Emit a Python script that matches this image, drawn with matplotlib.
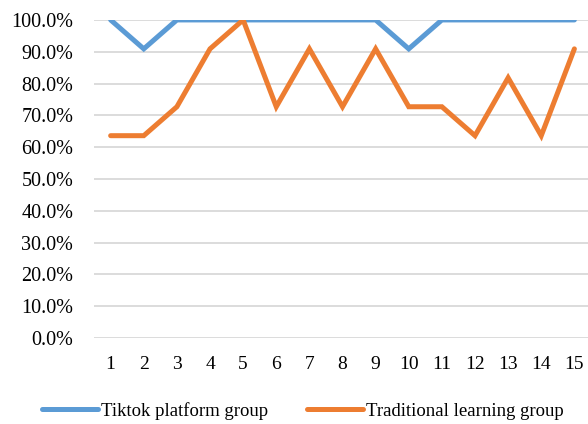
import matplotlib
matplotlib.use('Agg')
import matplotlib.pyplot as plt
from matplotlib.ticker import PercentFormatter

plt.rcParams['font.family'] = ['Liberation Serif', 'DejaVu Serif']

groups = list(range(1, 16))
tiktok = [100, 90.9, 100, 100, 100, 100, 100, 100, 100, 90.9, 100, 100, 100, 100, 100]
traditional = [63.6, 63.6, 72.7, 90.9, 100, 72.7, 90.9, 72.7, 90.9, 72.7, 72.7, 63.6, 81.8, 63.6, 90.9]

fig = plt.figure(figsize=(5.88, 4.24), dpi=100)
ax = fig.add_axes([0.16, 0.203, 0.845, 0.75])

ax.plot(groups, tiktok, color='#5B9BD5', lw=3.6, solid_capstyle='round', solid_joinstyle='miter',
        label='Tiktok platform group', zorder=3)
ax.plot(groups, traditional, color='#ED7D31', lw=3.6, solid_capstyle='round', solid_joinstyle='miter',
        label='Traditional learning group', zorder=3)

ax.set_xlim(0.5, 15.5)
ax.set_ylim(0, 100)
ax.set_yticks(range(0, 101, 10))
ax.yaxis.set_major_formatter(PercentFormatter(decimals=1))
ax.set_xticks(groups)
ax.grid(axis='y', color='#D9D9D9', lw=1.3)
ax.set_axisbelow(True)
for s in ax.spines.values():
    s.set_visible(False)
ax.tick_params(length=0, colors='black')
ax.tick_params(axis='x', pad=13, labelsize=14)
ax.tick_params(axis='y', pad=15, labelsize=14.5)

leg = fig.legend(loc='center left', bbox_to_anchor=(42 / 588, 0.031), ncol=2, frameon=False,
                 fontsize=13.5, handlelength=3.0, handletextpad=0.13, columnspacing=2.1,
                 borderpad=0, borderaxespad=0)

fig.savefig('out.png', dpi=100)
